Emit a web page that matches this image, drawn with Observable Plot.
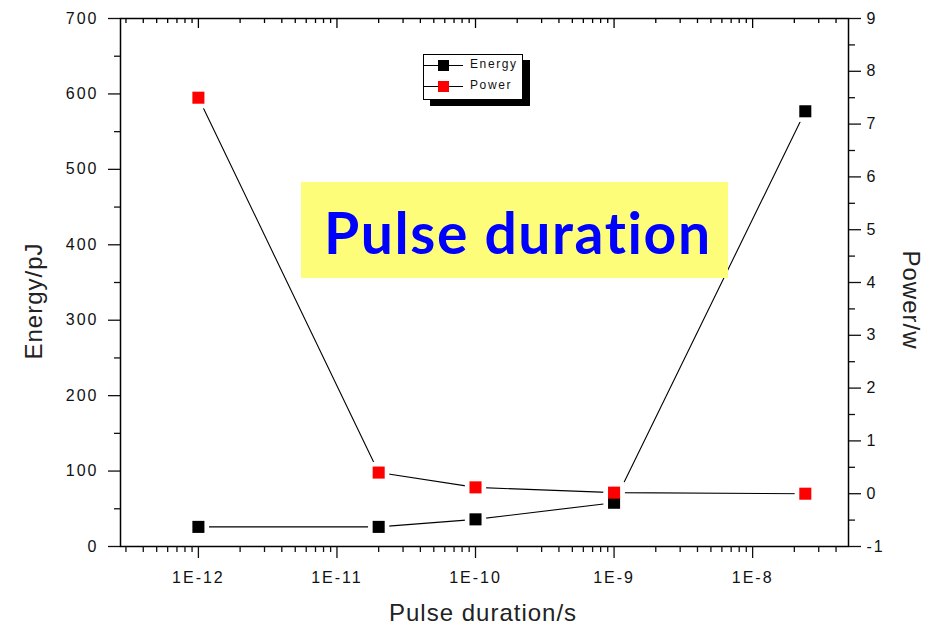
<!DOCTYPE html>
<html><head><meta charset="utf-8">
<script src="https://cdn.jsdelivr.net/npm/d3@7"></script>
<script src="https://cdn.jsdelivr.net/npm/@observablehq/plot@0.6"></script>
<style>
body{margin:0;background:#fff;}
#wrap{position:relative;width:927px;height:627px;font-family:"Liberation Sans",Arial,sans-serif;overflow:hidden;}
.lab{position:absolute;color:#222;font-size:24px;letter-spacing:1px;white-space:nowrap;transform-origin:center center;}
#title{position:absolute;left:301px;top:182px;width:427px;height:96px;background:#fdfd7a;}
#title span{position:absolute;left:23px;top:16px;font-family:Lato,"Open Sans",sans-serif;font-weight:700;font-size:57px;color:#0000ff;letter-spacing:1.6px;white-space:nowrap;}
#legend{position:absolute;left:423px;top:54px;width:98px;height:44px;border:1px solid #000;background:#fff;box-shadow:7px 6px 0 #000;}
#legend .row{position:absolute;left:0;width:98px;height:20px;}
#legend .ln{position:absolute;left:0;top:10px;width:39px;height:1px;background:#000;}
#legend .sq{position:absolute;left:14px;top:5px;width:11px;height:11px;}
#legend .tx{position:absolute;left:46px;top:2px;font-size:12px;letter-spacing:1.6px;color:#111;}
</style></head><body><div id="wrap"></div>
<script>
// Data
const durations = [1e-12, 2e-11, 1e-10, 1e-9, 2.4e-8];   // Pulse duration / s
const energy = [26, 26, 36, 58, 577];                     // Energy / pJ
const power = [7.5, 0.4, 0.12, 0.02, 0.0];                // Power / w
const seriesNames = ["Energy", "Power"];
const seriesColors = ["#000000", "#ff0000"];

// tick values
const xMajor = [1e-12, 1e-11, 1e-10, 1e-9, 1e-8];
const xDomain = [2.74e-13, 4.92e-8];
const xMinor = [];
for (let d = -13; d <= -8; d++) for (let k = 2; k <= 9; k++) {
  const v = k * Math.pow(10, d);
  if (v >= xDomain[0] && v <= xDomain[1]) xMinor.push(v);
}
const yMajor = [0, 100, 200, 300, 400, 500, 600, 700];
const yMinor = [50, 150, 250, 350, 450, 550, 650];
const pMajor = [-1, 0, 1, 2, 3, 4, 5, 6, 7, 8, 9];
const pMinor = [-0.5, 0.5, 1.5, 2.5, 3.5, 4.5, 5.5, 6.5, 7.5, 8.5];
// right axis (-1..9) shares the left axis range (0..700)
const toY = p => (p + 1) * 70;
const fromY = v => v / 70 - 1;

const eData = durations.map((d, i) => ({x: d, y: energy[i]}));
const pData = durations.map((d, i) => ({x: d, y: toY(power[i])}));
const all = eData.concat(pData);

const chart = Plot.plot({
  width: 927, height: 627,
  marginLeft: 120, marginRight: 79, marginTop: 18, marginBottom: 81,
  x: {type: "log", domain: xDomain},
  y: {domain: [0, 700]},
  style: {fontFamily: "Liberation Sans, Arial, sans-serif", fontSize: "16px", color: "#111", background: "#fff", letterSpacing: "2px"},
  marks: [
    Plot.frame({stroke: "#000", strokeWidth: 1.5}),
    Plot.axisX({ticks: xMajor, tickFormat: d => "1E" + Math.round(Math.log10(d)), tickSize: 12, tickPadding: 13, label: null, strokeWidth: 1.3}),
    Plot.axisX({ticks: xMinor, tickFormat: () => "", tickSize: 6, label: null, strokeWidth: 1.3}),
    Plot.ruleX(xMajor, {x: d => d, y1: 700, y2: 700, insetBottom: -10, stroke: "#000", strokeWidth: 1.3}),
    Plot.ruleX(xMinor, {x: d => d, y1: 700, y2: 700, insetBottom: -5, stroke: "#000", strokeWidth: 1.3}),
    Plot.axisY({ticks: yMajor, tickSize: 12, tickPadding: 10, label: null, strokeWidth: 1.3}),
    Plot.axisY({ticks: yMinor, tickSize: 6, tickFormat: () => "", label: null, strokeWidth: 1.3}),
    Plot.axisY({anchor: "right", ticks: pMajor.map(toY), tickFormat: v => String(Math.round(fromY(v))), tickSize: 12, tickPadding: 6, label: null, strokeWidth: 1.3}),
    Plot.axisY({anchor: "right", ticks: pMinor.map(toY), tickFormat: () => "", tickSize: 6, label: null, strokeWidth: 1.3}),
    Plot.line(eData, {x: "x", y: "y", stroke: "#000", strokeWidth: 1.1}),
    Plot.line(pData, {x: "x", y: "y", stroke: "#000", strokeWidth: 1.1}),
    Plot.dot(all, {x: "x", y: "y", symbol: "square", r: 12, fill: "#fff"}),
    Plot.dot(eData, {x: "x", y: "y", symbol: "square", r: 6.8, fill: seriesColors[0]}),
    Plot.dot(pData, {x: "x", y: "y", symbol: "square", r: 6.8, fill: seriesColors[1]})
  ]
});

const wrap = document.getElementById("wrap");
wrap.appendChild(chart);
chart.style.position = "absolute"; chart.style.left = "0"; chart.style.top = "0";

function addLab(text, cx, cy, rot) {
  const el = document.createElement("div");
  el.className = "lab"; el.textContent = text;
  wrap.appendChild(el);
  const w = el.offsetWidth, h = el.offsetHeight;
  el.style.left = (cx - w / 2) + "px"; el.style.top = (cy - h / 2) + "px";
  if (rot) el.style.transform = `rotate(${rot}deg)`;
}
addLab("Pulse duration/s", 483, 613, 0);
addLab("Energy/pJ", 33, 301, -90);
addLab("Power/w", 910, 300, 90);

const title = document.createElement("div");
title.id = "title";
title.innerHTML = "<span>Pulse duration</span>";
wrap.appendChild(title);

const legend = document.createElement("div");
legend.id = "legend";
seriesNames.forEach((name, i) => {
  const row = document.createElement("div");
  row.className = "row"; row.style.top = (i * 21) + "px";
  row.innerHTML = `<div class="ln"></div><div class="sq" style="background:${seriesColors[i]}"></div><div class="tx">${name}</div>`;
  legend.appendChild(row);
});
wrap.appendChild(legend);
</script>
</body></html>
